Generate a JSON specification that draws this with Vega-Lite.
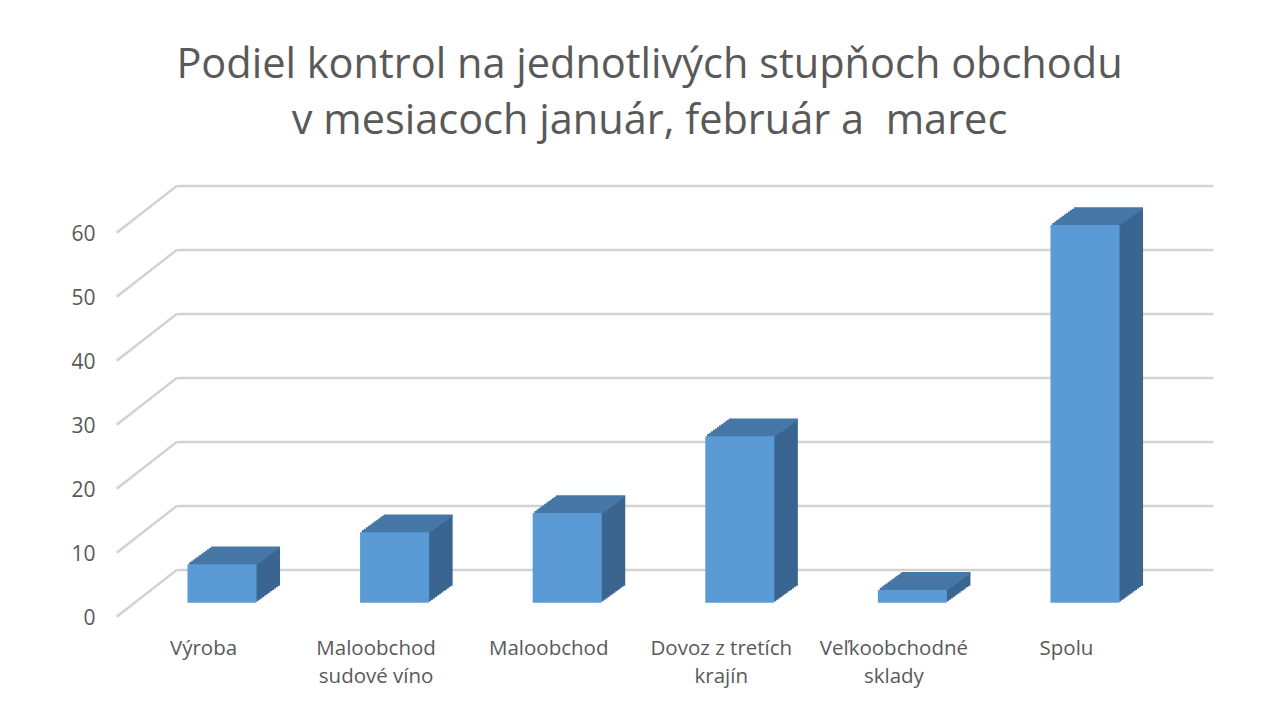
{
  "$schema": "https://vega.github.io/schema/vega-lite/v6.json",
  "width": 1035.6,
  "height": 384,
  "autosize": {"type": "none"},
  "padding": {"left": 135.7, "top": 218.7, "right": 107.7, "bottom": 100.3},
  "background": "white",
  "datasets": {
    "bars": [
      {"cat": "Výroba", "val": 6},
      {"cat": "Maloobchod sudové víno", "val": 11},
      {"cat": "Maloobchod", "val": 14},
      {"cat": "Dovoz z tretích krajín", "val": 26},
      {"cat": "Veľkoobchodné sklady", "val": 2},
      {"cat": "Spolu", "val": 59}
    ],
    "grid": [
      {"v": 0}, {"v": 10}, {"v": 20}, {"v": 30}, {"v": 40}, {"v": 50}, {"v": 60}
    ]
  },
  "title": {
    "text": ["Podiel kontrol na jednotlivých stupňoch obchodu", "v mesiacoch január, február a\u00a0 marec"],
    "font": "Open Sans",
    "fontSize": 41.5,
    "fontWeight": "normal",
    "color": "#595959",
    "lineHeight": 56,
    "anchor": "middle",
    "dx": -4,
    "offset": 42
  },
  "layer": [
    {
      "data": {"name": "grid"},
      "mark": {"type": "rule", "color": "#d2d2d2", "strokeWidth": 2.4, "xOffset": -70.8, "x2Offset": -10.8, "yOffset": 14, "y2Offset": -32.7},
      "encoding": {
        "x": {"datum": "Výroba", "type": "nominal", "bandPosition": 0, "title": null},
        "x2": {"datum": "Výroba", "bandPosition": 0},
        "y": {"field": "v", "type": "quantitative", "title": null, "axis": {"values": [0, 10, 20, 30, 40, 50, 60]}},
        "y2": {"field": "v"}
      }
    },
    {
      "data": {"name": "grid"},
      "mark": {"type": "rule", "color": "#d2d2d2", "strokeWidth": 2.4, "xOffset": -10.8, "x2Offset": 93.8, "yOffset": -32.7, "y2Offset": -32.7},
      "encoding": {
        "x": {"datum": "Výroba", "type": "nominal", "bandPosition": 0, "title": null},
        "x2": {"datum": "Spolu", "bandPosition": 1},
        "y": {"field": "v", "type": "quantitative", "title": null, "axis": {"values": [0, 10, 20, 30, 40, 50, 60]}},
        "y2": {"field": "v"}
      }
    },
    {
      "data": {"name": "bars"},
      "encoding": {
        "x": {
          "field": "cat", "type": "nominal", "sort": null, "title": null,
          "scale": {"domain": ["Výroba", "Maloobchod sudové víno", "Maloobchod", "Dovoz z tretích krajín", "Veľkoobchodné sklady", "Spolu"], "paddingInner": 0.6, "paddingOuter": 0.3}
        },
        "y": {
          "field": "val", "type": "quantitative", "title": null,
          "scale": {"domain": [0, 60], "nice": false},
          "axis": {"values": [0, 10, 20, 30, 40, 50, 60]}
        }
      },
      "layer": [
        {"mark": {"type": "bar", "color": "#3A6590", "xOffset": 23.52, "x2Offset": 23.52, "yOffset": -17.04, "y2Offset": -17.04}},
        {"mark": {"type": "bar", "color": "#3A6590", "xOffset": 21.56, "x2Offset": 21.56, "yOffset": -15.62, "y2Offset": -15.62}},
        {"mark": {"type": "bar", "color": "#3A6590", "xOffset": 19.6, "x2Offset": 19.6, "yOffset": -14.2, "y2Offset": -14.2}},
        {"mark": {"type": "bar", "color": "#3A6590", "xOffset": 17.64, "x2Offset": 17.64, "yOffset": -12.78, "y2Offset": -12.78}},
        {"mark": {"type": "bar", "color": "#3A6590", "xOffset": 15.68, "x2Offset": 15.68, "yOffset": -11.36, "y2Offset": -11.36}},
        {"mark": {"type": "bar", "color": "#3A6590", "xOffset": 13.72, "x2Offset": 13.72, "yOffset": -9.94, "y2Offset": -9.94}},
        {"mark": {"type": "bar", "color": "#3A6590", "xOffset": 11.76, "x2Offset": 11.76, "yOffset": -8.52, "y2Offset": -8.52}},
        {"mark": {"type": "bar", "color": "#3A6590", "xOffset": 9.8, "x2Offset": 9.8, "yOffset": -7.1, "y2Offset": -7.1}},
        {"mark": {"type": "bar", "color": "#3A6590", "xOffset": 7.84, "x2Offset": 7.84, "yOffset": -5.68, "y2Offset": -5.68}},
        {"mark": {"type": "bar", "color": "#3A6590", "xOffset": 5.88, "x2Offset": 5.88, "yOffset": -4.26, "y2Offset": -4.26}},
        {"mark": {"type": "bar", "color": "#3A6590", "xOffset": 3.92, "x2Offset": 3.92, "yOffset": -2.84, "y2Offset": -2.84}},
        {"mark": {"type": "bar", "color": "#3A6590", "xOffset": 1.96, "x2Offset": 1.96, "yOffset": -1.42, "y2Offset": -1.42}},
        {"mark": {"type": "bar", "color": "#4677A6", "xOffset": 23.52, "x2Offset": 23.52, "yOffset": -17.84, "y2Offset": -15.54}, "encoding": {"y2": {"field": "val"}}},
        {"mark": {"type": "bar", "color": "#4677A6", "xOffset": 21.56, "x2Offset": 21.56, "yOffset": -16.42, "y2Offset": -14.12}, "encoding": {"y2": {"field": "val"}}},
        {"mark": {"type": "bar", "color": "#4677A6", "xOffset": 19.6, "x2Offset": 19.6, "yOffset": -15.0, "y2Offset": -12.7}, "encoding": {"y2": {"field": "val"}}},
        {"mark": {"type": "bar", "color": "#4677A6", "xOffset": 17.64, "x2Offset": 17.64, "yOffset": -13.58, "y2Offset": -11.28}, "encoding": {"y2": {"field": "val"}}},
        {"mark": {"type": "bar", "color": "#4677A6", "xOffset": 15.68, "x2Offset": 15.68, "yOffset": -12.16, "y2Offset": -9.86}, "encoding": {"y2": {"field": "val"}}},
        {"mark": {"type": "bar", "color": "#4677A6", "xOffset": 13.72, "x2Offset": 13.72, "yOffset": -10.74, "y2Offset": -8.44}, "encoding": {"y2": {"field": "val"}}},
        {"mark": {"type": "bar", "color": "#4677A6", "xOffset": 11.76, "x2Offset": 11.76, "yOffset": -9.32, "y2Offset": -7.02}, "encoding": {"y2": {"field": "val"}}},
        {"mark": {"type": "bar", "color": "#4677A6", "xOffset": 9.8, "x2Offset": 9.8, "yOffset": -7.9, "y2Offset": -5.6}, "encoding": {"y2": {"field": "val"}}},
        {"mark": {"type": "bar", "color": "#4677A6", "xOffset": 7.84, "x2Offset": 7.84, "yOffset": -6.48, "y2Offset": -4.18}, "encoding": {"y2": {"field": "val"}}},
        {"mark": {"type": "bar", "color": "#4677A6", "xOffset": 5.88, "x2Offset": 5.88, "yOffset": -5.06, "y2Offset": -2.76}, "encoding": {"y2": {"field": "val"}}},
        {"mark": {"type": "bar", "color": "#4677A6", "xOffset": 3.92, "x2Offset": 3.92, "yOffset": -3.64, "y2Offset": -1.34}, "encoding": {"y2": {"field": "val"}}},
        {"mark": {"type": "bar", "color": "#4677A6", "xOffset": 1.96, "x2Offset": 1.96, "yOffset": -2.22, "y2Offset": 0.08}, "encoding": {"y2": {"field": "val"}}},
        {"mark": {"type": "bar", "color": "#5B9BD5"}}
      ]
    }
  ],
  "config": {
    "view": {"stroke": null},
    "axisX": {
      "ticks": false, "domain": false, "grid": false,
      "labelAngle": 0, "labelLimit": 0, "labelPadding": 36, "labelOffset": -18.5,
      "labelFont": "Open Sans", "labelFontSize": 20.5, "labelColor": "#595959", "labelLineHeight": 28,
      "labelExpr": "datum.value == 'Maloobchod sudové víno' ? ['Maloobchod', 'sudové víno'] : datum.value == 'Dovoz z tretích krajín' ? ['Dovoz z tretích', 'krajín'] : datum.value == 'Veľkoobchodné sklady' ? ['Veľkoobchodné', 'sklady'] : datum.value"
    },
    "axisY": {
      "ticks": false, "domain": false, "grid": false,
      "labelPadding": 40.7, "labelOffset": 16,
      "labelFont": "Open Sans", "labelFontSize": 21, "labelColor": "#595959"
    }
  }
}
